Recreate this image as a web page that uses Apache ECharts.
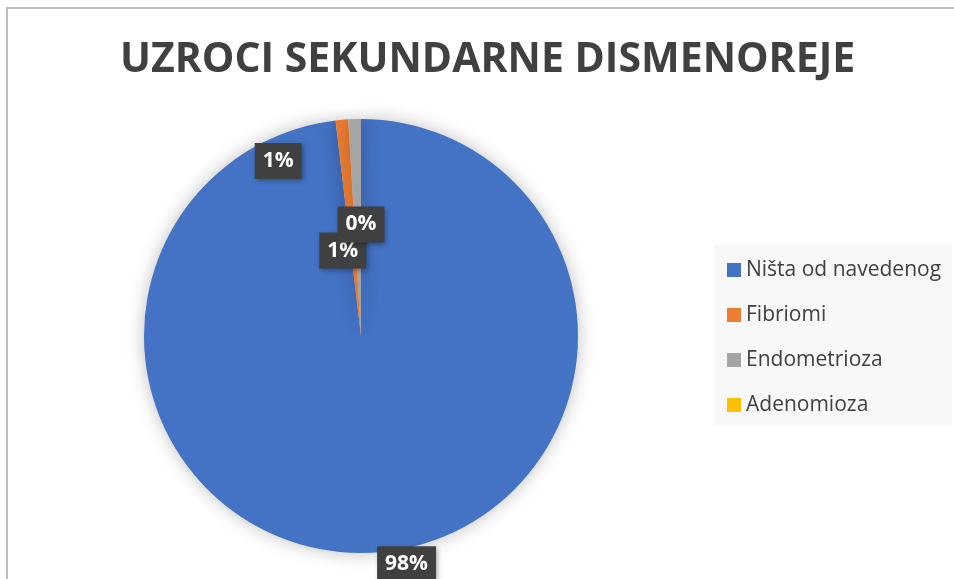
<!DOCTYPE html>
<html lang="hr">
<head>
    <meta charset="UTF-8">
    <title>Uzroci sekundarne dismenoreje</title>
    <script src="https://cdn.jsdelivr.net/npm/echarts@6.0.0/dist/echarts.min.js"></script>
    <style>
        html, body {
            margin: 0;
            padding: 0;
            background: #fff;
            overflow: hidden;
        }
        .frame {
            position: absolute;
            left: 6px;
            top: 7px;
            width: 1000px;
            height: 700px;
            border-left: 2px solid #bfbfbf;
            border-top: 2px solid #bfbfbf;
        }
        #chart {
            position: absolute;
            left: 0;
            top: 0;
            width: 954px;
            height: 579px;
        }
    </style>
</head>
<body>
    <div class="frame"></div>
    <div id="chart"></div>

    <script>
        const titleText = 'UZROCI SEKUNDARNE DISMENOREJE';
        const categories = ['Ništa od navedenog', 'Fibriomi', 'Endometrioza', 'Adenomioza'];
        const counts = [105, 1, 1, 0];
        const colors = ['#4472c4', '#ed7d31', '#a5a5a5', '#ffc000'];
        // pomak oznaka od sredine isječka (kao u Excelu)
        const labelShift = [[39, 117], [-73, -64], [-15, 26], [0, 0]];

        const chart = echarts.init(document.getElementById('chart'));

        const option = {
            backgroundColor: 'transparent',
            title: {
                text: titleText,
                left: 115,
                top: 35,
                textStyle: {
                    fontFamily: 'Open Sans',
                    fontWeight: 'bold',
                    fontSize: 41,
                    color: '#404040'
                }
            },
            legend: {
                orient: 'vertical',
                left: 714,
                top: 245,
                padding: [14, 11, 10, 13],
                backgroundColor: '#f8f8f8',
                itemWidth: 14,
                itemHeight: 14,
                itemGap: 23,
                icon: 'rect',
                data: categories,
                textStyle: {
                    fontFamily: 'Open Sans',
                    fontSize: 21,
                    lineHeight: 22,
                    color: '#404040'
                }
            },
            series: [{
                type: 'pie',
                center: [361, 336],
                radius: [0, 217],
                startAngle: 90,
                clockwise: true,
                silent: true,
                itemStyle: {
                    borderWidth: 0,
                    shadowBlur: 18,
                    shadowColor: 'rgba(0,0,0,0.25)'
                },
                label: {
                    show: true,
                    position: 'inside',
                    formatter: p => Math.round(p.percent) + '%',
                    fontFamily: 'Open Sans',
                    fontWeight: 'bold',
                    fontSize: 21,
                    color: '#ffffff',
                    backgroundColor: '#404040',
                    padding: [8, 8, 7, 8],
                    shadowBlur: 5,
                    shadowOffsetX: 2,
                    shadowOffsetY: 2,
                    shadowColor: 'rgba(0,0,0,0.35)'
                },
                labelLine: { show: false },
                labelLayout: function (params) {
                    const s = labelShift[params.dataIndex];
                    return { dx: s[0], dy: s[1] };
                },
                data: categories.map((name, i) => ({
                    name: name,
                    value: counts[i],
                    itemStyle: { color: colors[i] }
                }))
            }]
        };

        chart.setOption(option);
    </script>
</body>
</html>
